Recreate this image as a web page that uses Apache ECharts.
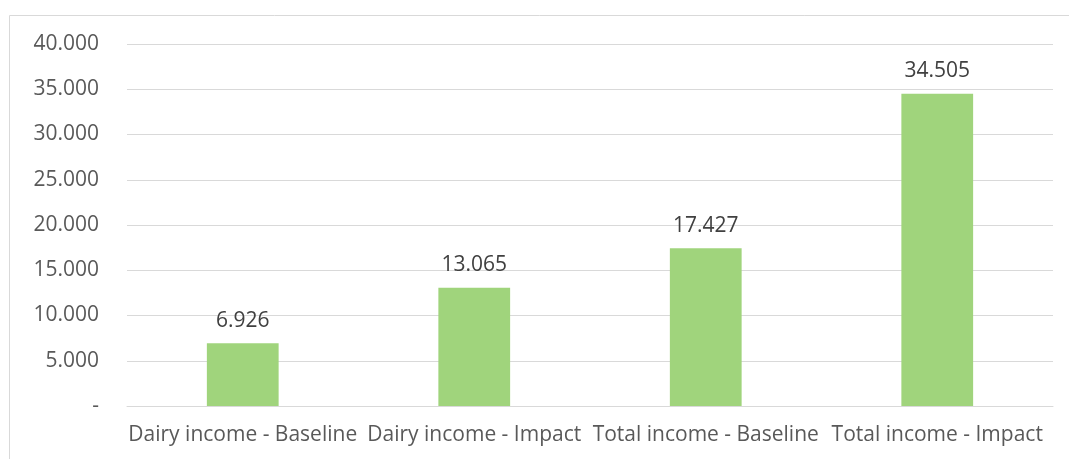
<!DOCTYPE html>
<html><head><meta charset="utf-8">
<script src="https://cdn.jsdelivr.net/npm/echarts@6/dist/echarts.min.js"></script>
<style>html,body{margin:0;padding:0;background:#fff}#c{width:1069px;height:459px}</style>
</head><body><div id="c"></div>
<script>
const categories = ["Dairy income - Baseline", "Dairy income - Impact", "Total income - Baseline", "Total income - Impact"];
const values = [6926, 13065, 17427, 34505];
const yTicks = [0, 5000, 10000, 15000, 20000, 25000, 30000, 35000, 40000];

function fmt(v) {
  if (v === 0) return "-";
  return String(v).replace(/\B(?=(\d{3})+(?!\d))/g, ".");
}
const FONT = "'Open Sans', 'Noto Sans', sans-serif";
const chart = echarts.init(document.getElementById('c'), null, {renderer: 'canvas'});
chart.setOption({
  animation: false,
  graphic: [{type: 'rect', shape: {x: 9.5, y: 15.5, width: 1100, height: 500}, style: {fill: 'none', stroke: '#D9D9D9', lineWidth: 1}, silent: true}],
  grid: {left: 127, right: 16, top: 44, bottom: 53, containLabel: false},
  xAxis: {
    type: 'category', data: categories,
    axisLine: {show: true, lineStyle: {color: '#D9D9D9', width: 1}},
    axisTick: {show: false},
    axisLabel: {color: '#595959', fontSize: 21, fontFamily: FONT, margin: 19, interval: 0}
  },
  yAxis: {
    type: 'value', min: 0, max: 40000, interval: 5000,
    axisLine: {show: false}, axisTick: {show: false},
    splitLine: {lineStyle: {color: '#D9D9D9', width: 1}},
    axisLabel: {color: '#595959', fontSize: 21, fontFamily: FONT, margin: 28, formatter: v => fmt(v)}
  },
  series: [{
    type: 'bar', data: values, barWidth: '31%',
    itemStyle: {color: '#A0D47C'},
    label: {show: true, position: 'top', distance: 12, color: '#404040', fontSize: 21, fontFamily: FONT, formatter: p => fmt(p.value)}
  }]
});
</script></body></html>
